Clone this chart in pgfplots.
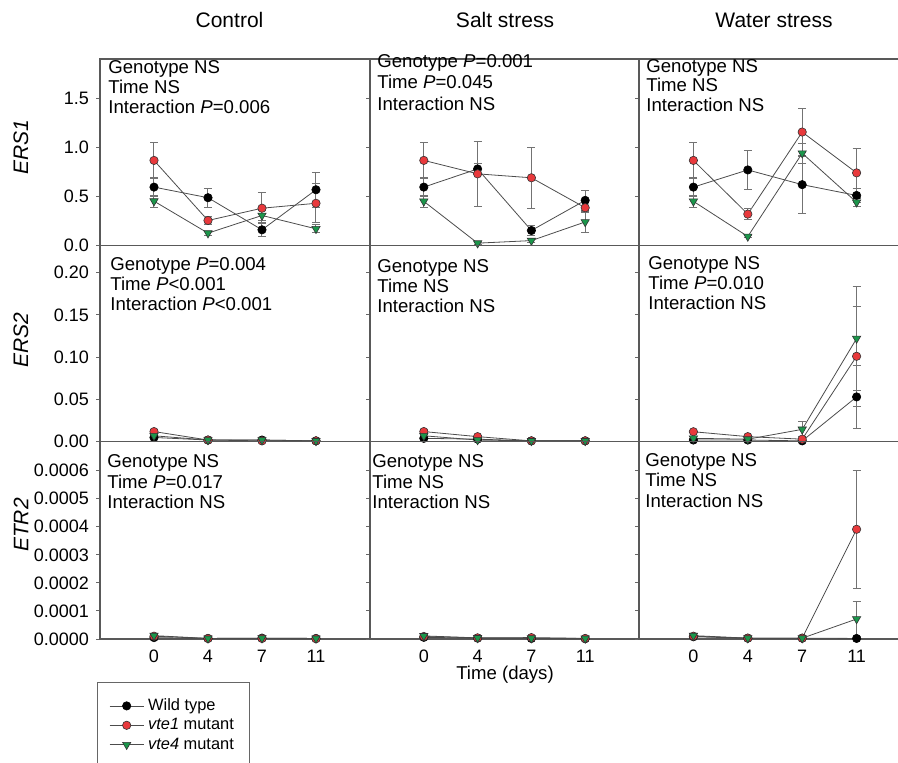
\documentclass[border=0pt]{standalone}
\usepackage{fontspec}
\setmainfont{Liberation Sans}
\usepackage{pgfplots}
\pgfplotsset{compat=1.18}
\definecolor{vred}{RGB}{232,57,60}
\definecolor{vgreen}{RGB}{27,150,75}
\newcommand\tickfont{\fontsize{9}{10}\selectfont}
\newcommand\annfont{\fontsize{9.3}{10}\selectfont}
\newcommand\titfont{\fontsize{10.5}{12}\selectfont}
\newcommand\legfont{\fontsize{8.2}{9}\selectfont}
\pgfplotsset{
 panel/.style={scale only axis, clip=false, xmin=-1, xmax=4, ymin=0,
   xtick={0,1,2,3}, xticklabels={}, x tick style={draw=none},
   axis line style={draw=black!65, line width=0.6pt},
   ytick pos=left, tick align=outside, major tick length=2pt,
   y tick style={draw=black!60, line width=0.5pt},
   scaled y ticks=false,
   yticklabel style={font=\tickfont, /pgf/number format/assume math mode=true,
     /pgf/number format/fixed, /pgf/number format/fixed zerofill},
   xticklabel style={font=\tickfont}},
 r1/.style={panel, height=93.25pt, ymax=1.9, ytick={0,0.5,1,1.5},
   yticklabel style={/pgf/number format/precision=1}},
 r2/.style={panel, height=98.1pt, ymax=0.232, ytick={0,0.05,0.1,0.15,0.2},
   yticklabel style={/pgf/number format/precision=2}},
 r3/.style={panel, height=98.65pt, ymax=0.000703,
   ytick={0,0.0001,0.0002,0.0003,0.0004,0.0005,0.0006},
   yticklabel style={/pgf/number format/precision=4}},
 c1/.style={width=135pt, at={(50pt,#1)}, anchor=north west},
 c2/.style={width=134.5pt, at={(185pt,#1)}, anchor=north west, yticklabels={}},
 c3/.style={width=136pt, at={(319.5pt,#1)}, anchor=north west, yticklabels={}},
 ebar/.style={error bars/.cd, y dir=both, y explicit,
   error bar style={draw=black!55, line width=0.5pt},
   error mark options={rotate=90, mark size=2pt, draw=black!55, line width=0.5pt}},
 wt/.style={draw=black!70, line width=0.4pt, mark=*, mark size=2.1pt,
   mark options={fill=black, draw=black, line width=0.3pt}, ebar},
 v1/.style={draw=black!70, line width=0.4pt, mark=*, mark size=2.1pt,
   mark options={fill=vred, draw=black!80, line width=0.3pt}, ebar},
 v4/.style={draw=black!70, line width=0.4pt, mark=triangle*, mark size=2.4pt,
   mark options={fill=vgreen, draw=black!80, line width=0.3pt, rotate=180}, ebar},
}
\begin{document}
\begin{tikzpicture}
% ---------------- Row 1: ERS1 ----------------
\begin{axis}[r1, c1=-29.5pt]
\addplot[wt] table[x=x,y=y,y error=e] {
x y e
0 0.595 0.10
1 0.487 0.095
2 0.16 0.07
3 0.568 0.18
};
\addplot[v1] table[x=x,y=y,y error=e] {
x y e
0 0.867 0.18
1 0.255 0.04
2 0.38 0.155
3 0.43 0.2
};
\addplot[v4] table[x=x,y=y,y error=e] {
x y e
0 0.452 0.06
1 0.126 0.02
2 0.306 0.05
3 0.17 0.04
};
\end{axis}
\begin{axis}[r1, c2=-29.5pt]
\addplot[wt] table[x=x,y=y,y error=e] {
x y e
0 0.595 0.10
1 0.78 0.06
2 0.153 0.05
3 0.46 0.1
};
\addplot[v1] table[x=x,y=y,y error=e] {
x y e
0 0.867 0.18
1 0.73 0.33
2 0.69 0.31
3 0.385 0.05
};
\addplot[v4] table[x=x,y=y,y error=e] {
x y e
0 0.45 0.06
1 0.024 0.01
2 0.05 0.02
3 0.24 0.11
};
\end{axis}
\begin{axis}[r1, c3=-29.5pt]
\addplot[wt] table[x=x,y=y,y error=e] {
x y e
0 0.595 0.10
1 0.77 0.2
2 0.62 0.29
3 0.51 0.07
};
\addplot[v1] table[x=x,y=y,y error=e] {
x y e
0 0.867 0.18
1 0.32 0.06
2 1.156 0.24
3 0.74 0.25
};
\addplot[v4] table[x=x,y=y,y error=e] {
x y e
0 0.45 0.06
1 0.092 0.01
2 0.94 0.1
3 0.44 0.04
};
\end{axis}
% ---------------- Row 2: ERS2 ----------------
\begin{axis}[r2, c1=-122.75pt]
\addplot[wt] table[x=x,y=y,y error=e] {
x y e
0 0.005 0.001
1 0.002 0
2 0.002 0
3 0.001 0
};
\addplot[v1] table[x=x,y=y,y error=e] {
x y e
0 0.012 0.002
1 0.002 0
2 0.001 0
3 0.001 0
};
\addplot[v4] table[x=x,y=y,y error=e] {
x y e
0 0.007 0.001
1 0.002 0
2 0.002 0
3 0.001 0
};
\end{axis}
\begin{axis}[r2, c2=-122.75pt]
\addplot[wt] table[x=x,y=y,y error=e] {
x y e
0 0.004 0.001
1 0.003 0
2 0.001 0
3 0.001 0
};
\addplot[v1] table[x=x,y=y,y error=e] {
x y e
0 0.012 0.002
1 0.006 0.001
2 0.001 0
3 0.001 0
};
\addplot[v4] table[x=x,y=y,y error=e] {
x y e
0 0.007 0.001
1 0.002 0
2 0.001 0
3 0.001 0
};
\end{axis}
\begin{axis}[r2, c3=-122.75pt]
\addplot[wt] table[x=x,y=y,y error=e] {
x y e
0 0.002 0
1 0.002 0
2 0.001 0
3 0.053 0.037
};
\addplot[v1] table[x=x,y=y,y error=e] {
x y e
0 0.0118 0.001
1 0.006 0.001
2 0.003 0
3 0.101 0.059
};
\addplot[v4] table[x=x,y=y,y error=e] {
x y e
0 0.004 0
1 0.003 0
2 0.0146 0.009
3 0.122 0.062
};
\end{axis}
% ---------------- Row 3: ETR2 ----------------
\begin{axis}[r3, c1=-220.85pt, xticklabels={0,4,7,11},
  legend style={at={(axis description cs:-0.0122,-0.2164)}, anchor=north west,
    draw=black!60, line width=0.5pt, font=\legfont, inner xsep=6pt, inner ysep=7.5pt,
    row sep=1pt, nodes={inner ysep=0.5pt, inner xsep=2pt, text height=6pt, text depth=1.7pt}},
  legend cell align=left]
\addplot[wt] table[x=x,y=y,y error=e] {
x y e
0 0.000005 0
1 0.000002 0
2 0.000003 0
3 0.000002 0
};
\addlegendentry{Wild type}
\addplot[v1] table[x=x,y=y,y error=e] {
x y e
0 0.00001 0
1 0.000002 0
2 0.000002 0
3 0.000001 0
};
\addlegendentry{\textit{vte1} mutant}
\addplot[v4] table[x=x,y=y,y error=e] {
x y e
0 0.000012 0
1 0.000002 0
2 0.000003 0
3 0.000002 0
};
\addlegendentry{\textit{vte4} mutant}
\end{axis}
\begin{axis}[r3, c2=-220.85pt, xticklabels={0,4,7,11}]
\addplot[wt] table[x=x,y=y,y error=e] {
x y e
0 0.000006 0
1 0.000003 0
2 0.000002 0
3 0.000001 0
};
\addplot[v1] table[x=x,y=y,y error=e] {
x y e
0 0.000009 0
1 0.000004 0
2 0.000005 0
3 0.000002 0
};
\addplot[v4] table[x=x,y=y,y error=e] {
x y e
0 0.000011 0
1 0.000004 0
2 0.000003 0
3 0.000002 0
};
\end{axis}
\begin{axis}[r3, c3=-220.85pt, xticklabels={0,4,7,11}]
\addplot[wt] table[x=x,y=y,y error=e] {
x y e
0 0.000008 0
1 0.000003 0
2 0.000003 0
3 0.000002 0
};
\addplot[v1] table[x=x,y=y,y error=e] {
x y e
0 0.00001 0
1 0.000003 0
2 0.000003 0
3 0.000391 0.00021
};
\addplot[v4] table[x=x,y=y,y error=e] {
x y e
0 0.000012 0
1 0.000003 0
2 0.000003 0
3 0.0000713 0.000064
};
\end{axis}
% ---------------- Texts ----------------
\begin{scope}[x=0.5pt,y=-0.5pt]
\tikzset{ann/.style={anchor=base west, inner sep=0pt, font=\annfont}}
\node[anchor=base, font=\titfont] at (229.5,27) {Control};
\node[anchor=base, font=\titfont] at (505,27) {Salt stress};
\node[anchor=base, font=\titfont] at (774,27) {Water stress};
\node[rotate=90, font=\titfont] at (21,147) {\textit{ERS1}};
\node[rotate=90, font=\titfont] at (21,340) {\textit{ERS2}};
\node[rotate=90, font=\titfont] at (21,525) {\textit{ETR2}};
\node[font=\annfont] at (505,675) {Time (days)};
% row 1
\node[ann] at (108,73) {Genotype NS};
\node[ann] at (108,93) {Time NS};
\node[ann] at (108,113) {Interaction \textit{P}=0.006};
\node[ann] at (377,67) {Genotype \textit{P}=0.001};
\node[ann] at (377,88) {Time \textit{P}=0.045};
\node[ann] at (377,110) {Interaction NS};
\node[ann] at (646,72) {Genotype NS};
\node[ann] at (646,91.5) {Time NS};
\node[ann] at (646,111) {Interaction NS};
% row 2
\node[ann] at (110,270) {Genotype \textit{P}=0.004};
\node[ann] at (110,290) {Time \textit{P}<0.001};
\node[ann] at (110,310.5) {Interaction \textit{P}<0.001};
\node[ann] at (377,272) {Genotype NS};
\node[ann] at (377,292) {Time NS};
\node[ann] at (377,312) {Interaction NS};
\node[ann] at (648,269) {Genotype NS};
\node[ann] at (648,289.5) {Time \textit{P}=0.010};
\node[ann] at (648,309) {Interaction NS};
% row 3
\node[ann] at (107,467) {Genotype NS};
\node[ann] at (107,488) {Time \textit{P}=0.017};
\node[ann] at (107,508) {Interaction NS};
\node[ann] at (372,467) {Genotype NS};
\node[ann] at (372,488) {Time NS};
\node[ann] at (372,508) {Interaction NS};
\node[ann] at (645,466) {Genotype NS};
\node[ann] at (645,486.5) {Time NS};
\node[ann] at (645,507) {Interaction NS};
\end{scope}
\pgfresetboundingbox
\path[use as bounding box] (0,0) rectangle (449pt,-381pt);
\end{tikzpicture}
\end{document}
